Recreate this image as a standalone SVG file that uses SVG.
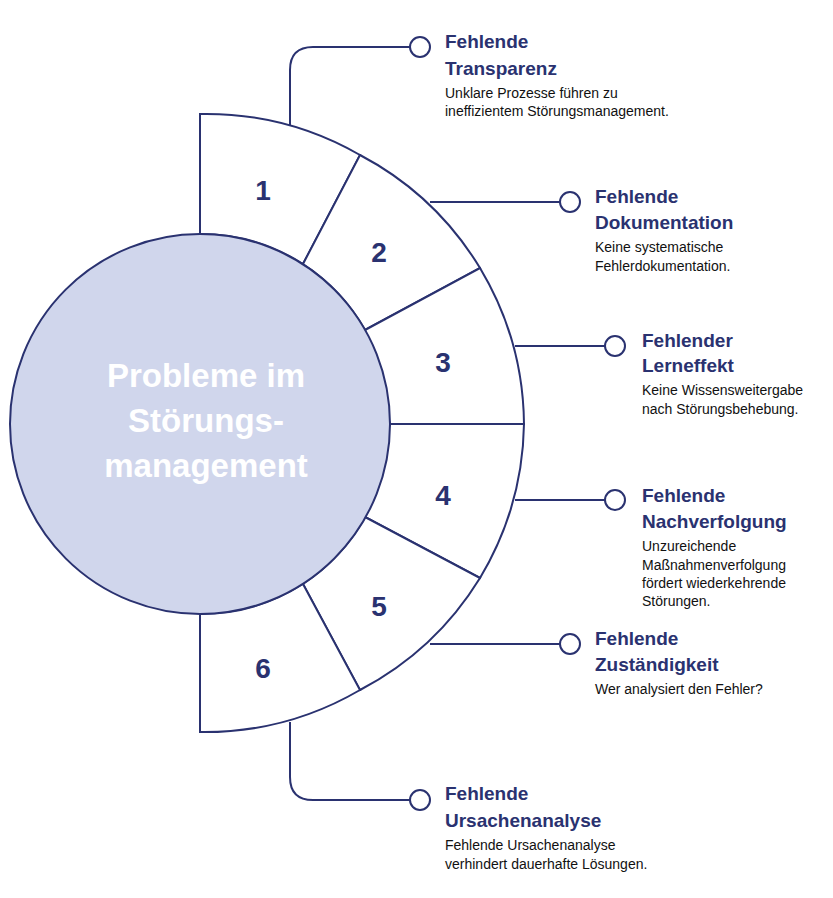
<svg xmlns="http://www.w3.org/2000/svg" width="833" height="898" viewBox="0 0 833 898">
<style>
.seg{fill:#fff;stroke:#2a3270;stroke-width:2}
.con{fill:none;stroke:#2a3270;stroke-width:2}
.dot{fill:#fff;stroke:#2a3270;stroke-width:2}
.num{font-family:"Liberation Sans",Arial,sans-serif;font-weight:bold;font-size:28px;fill:#2a3270;text-anchor:middle}
.t{font-family:"Liberation Sans",Arial,sans-serif;font-weight:bold;font-size:19px;fill:#2a3270}
.d{font-family:"Liberation Sans",Arial,sans-serif;font-size:14px;fill:#111}
.c{font-family:"Liberation Sans",Arial,sans-serif;font-weight:bold;font-size:33px;fill:#fff;text-anchor:middle}
</style>
<rect width="833" height="898" fill="#fff"/>
<g id="connectors">
<path class="con" d="M290 125 V70 Q290 47 313 47 H410"/>
<path class="con" d="M430 202 H560"/>
<path class="con" d="M515 346 H605"/>
<path class="con" d="M515 500 H605"/>
<path class="con" d="M430 644 H560"/>
<path class="con" d="M290 722 V777 Q290 800 313 800 H410"/>
<circle class="dot" cx="420" cy="47" r="10"/>
<circle class="dot" cx="570" cy="202" r="10"/>
<circle class="dot" cx="615" cy="346" r="10"/>
<circle class="dot" cx="615" cy="500" r="10"/>
<circle class="dot" cx="570" cy="644" r="10"/>
<circle class="dot" cx="420" cy="800" r="10"/>
</g>
<g id="seg1"><path class="seg" d="M200 234 V114 A309 309 0 0 1 360 155 L303 264 A190 190 0 0 0 200 234 Z"/><text class="num" x="263" y="200">1</text></g>
<g id="seg2"><path class="seg" d="M303 264 L360 155 A309 309 0 0 1 480 268 L365 330 A190 190 0 0 0 303 264 Z"/><text class="num" x="379" y="262">2</text></g>
<g id="seg3"><path class="seg" d="M365 330 L480 268 A309 309 0 0 1 524 424 L390 424 Z"/><text class="num" x="443" y="372">3</text></g>
<g id="seg4"><path class="seg" d="M390 424 L524 424 A309 309 0 0 1 480 578 L365 517 Z"/><text class="num" x="443" y="505">4</text></g>
<g id="seg5"><path class="seg" d="M365 517 L480 578 A309 309 0 0 1 360 690 L303 584 A190 190 0 0 0 365 517 Z"/><text class="num" x="379" y="616">5</text></g>
<g id="seg6"><path class="seg" d="M303 584 L360 690 A309 309 0 0 1 200 732 V614 A190 190 0 0 0 303 584 Z"/><text class="num" x="263" y="678">6</text></g>
<g id="center"><circle cx="200" cy="424" r="190" fill="#d0d6ec" stroke="#2a3270" stroke-width="2"/>
<text class="c" x="206" y="387">Probleme im</text><text class="c" x="206" y="432">Störungs-</text><text class="c" x="206" y="477">management</text></g>
<g id="label1"><text class="t" x="445" y="48">Fehlende</text><text class="t" x="445" y="75">Transparenz</text><text class="d" x="445" y="98">Unklare Prozesse führen zu</text><text class="d" x="445" y="116">ineffizientem Störungsmanagement.</text></g>
<g id="label2"><text class="t" x="595" y="203">Fehlende</text><text class="t" x="595" y="229">Dokumentation</text><text class="d" x="595" y="252">Keine systematische</text><text class="d" x="595" y="271">Fehlerdokumentation.</text></g>
<g id="label3"><text class="t" x="642" y="347">Fehlender</text><text class="t" x="642" y="372">Lerneffekt</text><text class="d" x="642" y="395">Keine Wissensweitergabe</text><text class="d" x="642" y="414">nach Störungsbehebung.</text></g>
<g id="label4"><text class="t" x="642" y="502">Fehlende</text><text class="t" x="642" y="528">Nachverfolgung</text><text class="d" x="642" y="551">Unzureichende</text><text class="d" x="642" y="570">Maßnahmenverfolgung</text><text class="d" x="642" y="588">fördert wiederkehrende</text><text class="d" x="642" y="606">Störungen.</text></g>
<g id="label5"><text class="t" x="595" y="645">Fehlende</text><text class="t" x="595" y="671">Zuständigkeit</text><text class="d" x="595" y="694">Wer analysiert den Fehler?</text></g>
<g id="label6"><text class="t" x="445" y="800">Fehlende</text><text class="t" x="445" y="827">Ursachenanalyse</text><text class="d" x="445" y="850">Fehlende Ursachenanalyse</text><text class="d" x="445" y="869">verhindert dauerhafte Lösungen.</text></g>
</svg>
